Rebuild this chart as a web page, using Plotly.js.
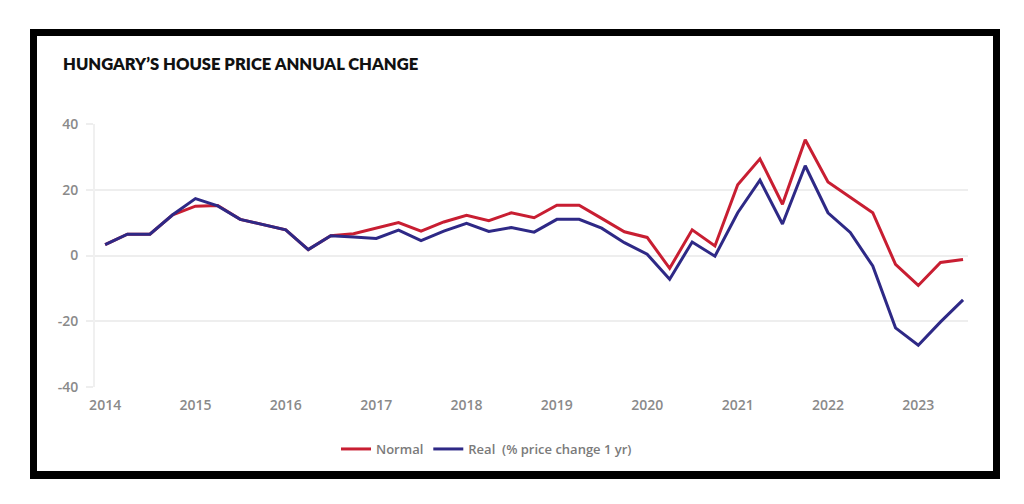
<!DOCTYPE html>
<html>
<head>
<meta charset="utf-8">
<script src="https://cdn.plot.ly/plotly-3.0.1.min.js"></script>
<style>
  html, body { margin: 0; padding: 0; background: #ffffff; }
  #chart { position: absolute; left: 0; top: 0; width: 1024px; height: 504px; }
  #frame { position: absolute; left: 30px; top: 29px; width: 970px; height: 450px;
           box-sizing: border-box; border: 7px solid #000; border-bottom-width: 8px;
           pointer-events: none; }
</style>
</head>
<body>
<div id="chart"></div>
<div id="frame"></div>
<script>
const quarters = [
  "2014-01-01","2014-04-01","2014-07-01","2014-10-01",
  "2015-01-01","2015-04-01","2015-07-01","2015-10-01",
  "2016-01-01","2016-04-01","2016-07-01","2016-10-01",
  "2017-01-01","2017-04-01","2017-07-01","2017-10-01",
  "2018-01-01","2018-04-01","2018-07-01","2018-10-01",
  "2019-01-01","2019-04-01","2019-07-01","2019-10-01",
  "2020-01-01","2020-04-01","2020-07-01","2020-10-01",
  "2021-01-01","2021-04-01","2021-07-01","2021-10-01",
  "2022-01-01","2022-04-01","2022-07-01","2022-10-01",
  "2023-01-01","2023-04-01","2023-07-01"
];

const normal = [
  3.3, 6.5, 6.5, 12.4,
  15.0, 15.2, 11.0, 9.3,
  7.8, 1.8, 6.0, 6.6,
  8.3, 10.0, 7.4, 10.2,
  12.2, 10.6, 13.0, 11.5,
  15.3, 15.3, 11.3, 7.2,
  5.5, -3.9, 7.8, 2.9,
  21.5, 29.4, 15.6, 35.2,
  22.4, 17.8, 13.0, -2.7,
  -9.1, -2.1, -1.2
];

const real = [
  3.3, 6.5, 6.5, 12.4,
  17.3, 15.1, 11.0, 9.3,
  7.8, 1.8, 6.0, 5.6,
  5.2, 7.7, 4.5, 7.4,
  9.8, 7.3, 8.5, 7.1,
  11.0, 11.0, 8.3, 3.9,
  0.4, -7.2, 4.1, -0.2,
  13.0, 22.9, 9.6, 27.3,
  13.0, 7.0, -3.2, -22.0,
  -27.3, -20.2, -13.5
];

const yearTicks = ["2014-01-01","2015-01-01","2016-01-01","2017-01-01","2018-01-01",
                   "2019-01-01","2020-01-01","2021-01-01","2022-01-01","2023-01-01"];
const yearLabels = ["2014","2015","2016","2017","2018","2019","2020","2021","2022","2023"];
const yTicks = [-40, -20, 0, 20, 40];

const tickFont = { family: "Open Sans, sans-serif", size: 14, color: "#8a8a8a", weight: 600 };

const traces = [
  { x: quarters, y: normal, type: "scatter", mode: "lines", name: "Normal",
    line: { color: "#c81e32", width: 3 } },
  { x: quarters, y: real, type: "scatter", mode: "lines", name: "Real  (% price change 1 yr)",
    line: { color: "#2e2986", width: 3 } }
];

const layout = {
  width: 1024, height: 504,
  paper_bgcolor: "#ffffff", plot_bgcolor: "#ffffff",
  margin: { l: 95, r: 56, t: 124, b: 117 },
  title: {
    text: "HUNGARY’S HOUSE PRICE ANNUAL CHANGE",
    x: 63 / 1024, xanchor: "left", xref: "container",
    y: 1 - 64 / 504, yanchor: "middle", yref: "container",
    font: { family: "Lato, sans-serif", size: 16.6, color: "#111111", weight: 800 }
  },
  xaxis: {
    type: "date",
    range: ["2013-11-21", "2023-07-21"],
    tickvals: yearTicks, ticktext: yearLabels,
    showgrid: false, zeroline: false, showline: false,
    ticks: "outside", ticklen: 5, tickcolor: "rgba(0,0,0,0)",
    tickfont: tickFont,
    fixedrange: true
  },
  yaxis: {
    range: [-40, 40],
    tickvals: yTicks, ticktext: yTicks.map(String),
    showgrid: true, gridcolor: "#eeeeee", gridwidth: 2,
    zeroline: true, zerolinecolor: "#eeeeee", zerolinewidth: 2,
    showline: true, linecolor: "#f0f0f0", linewidth: 2,
    ticks: "outside", ticklen: 7, tickcolor: "#eeeeee", tickwidth: 2,
    ticklabelstandoff: 5,
    tickfont: tickFont,
    fixedrange: true
  },
  showlegend: true,
  legend: {
    orientation: "h",
    x: (336 - 95) / 873, xanchor: "left",
    y: (387 - 449) / 263, yanchor: "middle",
    font: { family: "Open Sans, sans-serif", size: 13, color: "#7a7a7a", weight: 600 },
    itemwidth: 30,
    tracegroupgap: 0
  }
};

Plotly.newPlot("chart", traces, layout, { displayModeBar: false, staticPlot: true });
</script>
</body>
</html>
